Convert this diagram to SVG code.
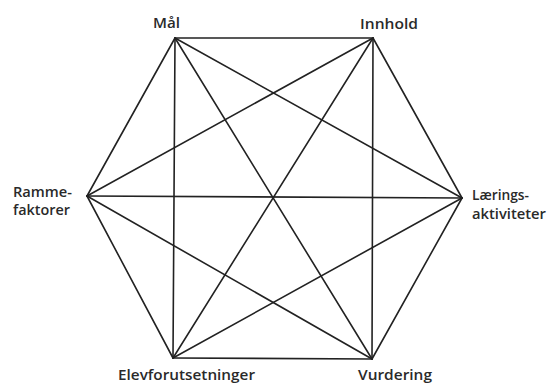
<svg xmlns="http://www.w3.org/2000/svg" width="547" height="385" viewBox="0 0 547 385">
<style>
.e{stroke:#222;stroke-width:1.6;fill:none;stroke-linecap:round}
.t{font-family:"Open Sans","Liberation Sans",sans-serif;font-size:14px;fill:#2a2a2a;font-weight:600}
</style>
<rect width="547" height="385" fill="#fff"/>
<g id="connectors">
<line class="e" x1="175" y1="38" x2="373" y2="38"/>
<line class="e" x1="175" y1="38" x2="462" y2="198"/>
<line class="e" x1="175" y1="38" x2="372" y2="359"/>
<line class="e" x1="175" y1="38" x2="173" y2="358"/>
<line class="e" x1="175" y1="38" x2="87" y2="196"/>
<line class="e" x1="373" y1="38" x2="462" y2="198"/>
<line class="e" x1="373" y1="38" x2="372" y2="359"/>
<line class="e" x1="373" y1="38" x2="173" y2="358"/>
<line class="e" x1="373" y1="38" x2="87" y2="196"/>
<line class="e" x1="462" y1="198" x2="372" y2="359"/>
<line class="e" x1="462" y1="198" x2="173" y2="358"/>
<line class="e" x1="462" y1="198" x2="87" y2="196"/>
<line class="e" x1="372" y1="359" x2="173" y2="358"/>
<line class="e" x1="372" y1="359" x2="87" y2="196"/>
<line class="e" x1="173" y1="358" x2="87" y2="196"/>
</g>
<g id="mal"><text class="t" x="153" y="28" textLength="27" lengthAdjust="spacingAndGlyphs">Mål</text></g>
<g id="innhold"><text class="t" x="360" y="29" textLength="58" lengthAdjust="spacingAndGlyphs">Innhold</text></g>
<g id="rammefaktorer"><text class="t" x="13" y="197" textLength="59" lengthAdjust="spacingAndGlyphs">Ramme-</text><text class="t" x="13" y="215" textLength="57" lengthAdjust="spacingAndGlyphs">faktorer</text></g>
<g id="laeringsaktiviteter"><text class="t" x="472" y="200" textLength="57" lengthAdjust="spacingAndGlyphs">Lærings-</text><text class="t" x="472" y="219" textLength="74" lengthAdjust="spacingAndGlyphs">aktiviteter</text></g>
<g id="elevforutsetninger"><text class="t" x="118" y="380" font-size="13" textLength="137" lengthAdjust="spacingAndGlyphs">Elevforutsetninger</text></g>
<g id="vurdering"><text class="t" x="358" y="380" font-size="13" textLength="74" lengthAdjust="spacingAndGlyphs">Vurdering</text></g>
</svg>
